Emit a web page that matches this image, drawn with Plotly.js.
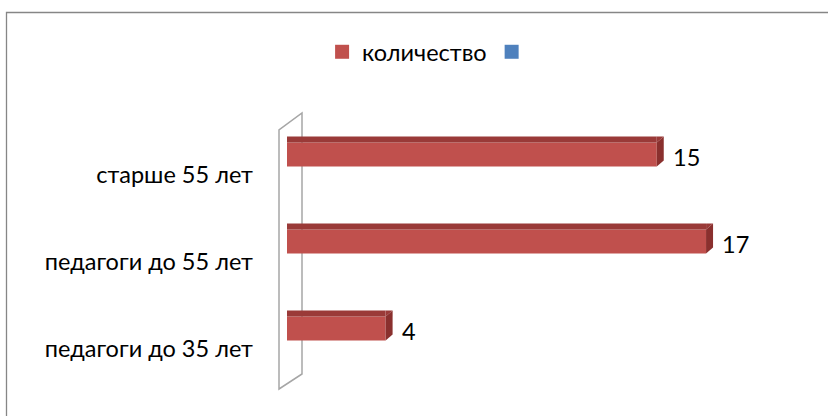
<!DOCTYPE html>
<html>
<head>
<meta charset="utf-8">
<script src="https://cdn.plot.ly/plotly-3.0.1.min.js"></script>
<style>html,body{margin:0;padding:0;background:#fff;}#chart{width:828px;height:416px;}</style>
</head>
<body>
<div id="chart"></div>
<script>
const categories = ['педагоги до 35 лет', 'педагоги до 55 лет', 'старше 55 лет'];
const values = [4, 17, 15];
const seriesName = 'количество';
const emptySeriesName = ' ';

const FRONT = '#C0504D', TOP = '#9A3A38', SIDE = '#8A302E', BLUE = '#4F81BD';
const FONT = 'Lato, "Noto Sans", sans-serif';
const FS = 23.5;

const shapes = [];
// chart border
shapes.push({type:'rect', xref:'paper', yref:'paper', xsizemode:'pixel', ysizemode:'pixel',
  xanchor:0, yanchor:1, x0:-280.5, x1:900, y0:-400, y1:98.5,
  line:{color:'#868686', width:1.3}, fillcolor:'rgba(0,0,0,0)', layer:'below'});
// 3D side wall
shapes.push({type:'path', xref:'paper', yref:'paper', xsizemode:'pixel', ysizemode:'pixel',
  xanchor:0, yanchor:0, path:'M -8,-17 L -8,242 L 15,259 L 15,-2 Z',
  line:{color:'#A6A6A6', width:1.5}, fillcolor:'rgba(0,0,0,0)', layer:'below'});
values.forEach((v, i) => {
  shapes.push({type:'rect', xref:'x', yref:'y', ysizemode:'pixel', yanchor:i,
    x0:0, x1:v, y0:12, y1:18, line:{width:0}, fillcolor:TOP, layer:'above'});
  shapes.push({type:'path', xref:'x', yref:'y', xsizemode:'pixel', ysizemode:'pixel',
    xanchor:v, yanchor:i, path:'M 0,12 L 7,18 L 0,18 Z', line:{width:0}, fillcolor:TOP, layer:'above'});
  shapes.push({type:'path', xref:'x', yref:'y', xsizemode:'pixel', ysizemode:'pixel',
    xanchor:v, yanchor:i, path:'M 0,12 L 7,18 L 7,-6 L 0,-12 Z', line:{width:0}, fillcolor:SIDE, layer:'above'});
});

const annotations = values.map((v, i) => ({
  x: v, y: categories[i], xref:'x', yref:'y', text: String(v), showarrow:false,
  xanchor:'left', xshift:14, yshift:-2, font:{family:FONT, size:FS, color:'#000'}
}));

const data = [
  {type:'bar', orientation:'h', name:seriesName, y:categories, x:values, width:0.276,
   marker:{color:FRONT, line:{width:0}}, hoverinfo:'x+y', showlegend:false, legendgroup:'a'},
  // legend entries
  {type:'scatter', mode:'markers', name:seriesName, x:[null], y:[null], legendgroup:'a',
   marker:{symbol:'square', size:14, color:FRONT}, hoverinfo:'skip'},
  {type:'scatter', mode:'markers', name:emptySeriesName, x:[null], y:[null],
   marker:{symbol:'square', size:14, color:BLUE}, hoverinfo:'skip'}
];

const layout = {
  width:828, height:416,
  margin:{l:287, r:48, t:111, b:44},
  paper_bgcolor:'#fff', plot_bgcolor:'rgba(0,0,0,0)',
  barmode:'overlay',
  font:{family:FONT, size:FS, color:'#000'},
  xaxis:{range:[0,20], showgrid:false, zeroline:false, showline:false, showticklabels:false, fixedrange:true},
  yaxis:{type:'category', categoryorder:'array', categoryarray:categories, range:[-0.5,2.5],
    showgrid:false, zeroline:false, showline:false, ticks:'',
    ticklabelshift:20, ticklabelstandoff:33, tickfont:{family:FONT, size:FS, color:'#000'}, fixedrange:true},
  showlegend:true,
  legend:{orientation:'h', xref:'container', yref:'container', x:0.389, y:0.875, xanchor:'left', yanchor:'middle',
    font:{family:FONT, size:FS, color:'#000'}, bgcolor:'rgba(0,0,0,0)', traceorder:'normal', itemwidth:30},
  shapes: shapes,
  annotations: annotations
};

Plotly.newPlot('chart', data, layout, {displayModeBar:false, staticPlot:true});
</script>
</body>
</html>
